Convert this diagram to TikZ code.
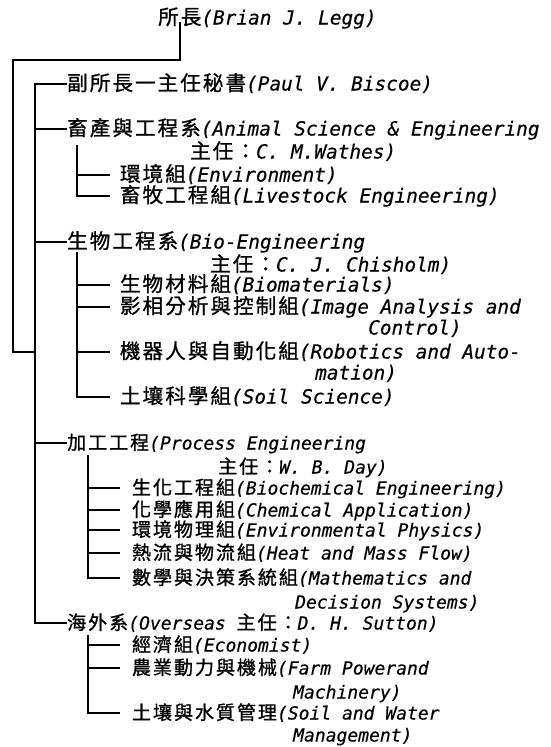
\documentclass[tikz,border=0pt]{standalone}
\usepackage{fontspec}
\newfontfamily\lat{DejaVu Sans Mono Oblique}[FakeBold=0.4]
\newfontfamily\cjk{Noto Sans CJK TC}[Scale=1.06, LetterSpace=10, FakeBold=1]
\begin{document}
\begin{tikzpicture}[x=1pt,y=-1pt,
  lbl/.style={anchor=west, inner sep=0pt, text height=13pt, text depth=0pt,
    font=\fontsize{18}{20}\selectfont\lat\frenchspacing},
  lblU/.style={lbl, font=\fontsize{19.4}{21}\selectfont\lat\frenchspacing},
  sub/.style={lblU, outer xsep=10pt},
  subb/.style={lbl, outer xsep=12pt},
  ln/.style={line width=1.9pt, line join=miter}]
\useasboundingbox[fill=white] (0,0) rectangle (550,747);
% nodes
\node[lblU] (title) at (158,18) {{\cjk 所長}(Brian J. Legg)};
\node[lblU] (vice) at (67,84) {{\cjk 副所長一主任秘書}(Paul V. Biscoe)};
\node[lblU] (anim) at (67,129) {{\cjk 畜產與工程系}(Animal Science \& Engineering};
\node[lblU] (animh) at (190,152) {{\cjk 主任：}C. M.Wathes)};
\node[sub] (a1) at (110,175) {{\cjk 環境組}(Environment)};
\node[sub] (a2) at (110,196) {{\cjk 畜牧工程組}(Livestock Engineering)};
\node[lblU] (bio) at (67,242) {{\cjk 生物工程系}(Bio-Engineering};
\node[lblU] (bioh) at (210,265) {{\cjk 主任：}C. J. Chisholm)};
\node[sub] (b1) at (110,285) {{\cjk 生物材料組}(Biomaterials)};
\node[sub] (b2) at (110,307) {{\cjk 影相分析與控制組}(Image Analysis and};
\node[lblU] (b2c) at (368,328) {Control)};
\node[sub] (b3) at (110,352) {{\cjk 機器人與自動化組}(Robotics and Auto-};
\node[lblU] (b3c) at (315,373) {mation)};
\node[sub] (b4) at (110,397) {{\cjk 土壤科學組}(Soil Science)};
\node[lbl] (proc) at (67,443) {{\cjk 加工工程}(Process Engineering};
\node[lbl] (proch) at (218,467) {{\cjk 主任：}W. B. Day)};
\node[subb] (p1) at (120,488) {{\cjk 生化工程組}(Biochemical Engineering)};
\node[subb] (p2) at (120,510) {{\cjk 化學應用組}(Chemical Application)};
\node[subb] (p3) at (120,530) {{\cjk 環境物理組}(Environmental Physics)};
\node[subb] (p4) at (120,553) {{\cjk 熱流與物流組}(Heat and Mass Flow)};
\node[subb] (p5) at (120,578) {{\cjk 數學與決策系統組}(Mathematics and};
\node[lbl] (p5c) at (295,602) {Decision Systems)};
\node[lbl] (over) at (67,623) {{\cjk 海外系}(Overseas {\cjk 主任：}D. H. Sutton)};
\node[subb] (d1) at (120,645) {{\cjk 經濟組}(Economist)};
\node[subb] (d2) at (120,668) {{\cjk 農業動力與機械}(Farm Powerand};
\node[lbl] (d2c) at (293,692) {Machinery)};
\node[subb] (d3) at (120,713) {{\cjk 土壤與水質管理}(Soil and Water};
\node[lbl] (d3c) at (293,735) {Management)};
% coordinates
\coordinate (tA) at (180,60);
\coordinate (tB) at (13,60);
\coordinate (tC) at (13,352);
\coordinate (bus) at (35,0);
\coordinate (gA) at (77,145);
\coordinate (gB) at (77,252);
\coordinate (gC) at (88,455);
\coordinate (gD) at (88,635);
% connectors
\draw[ln, shorten <=-3pt] (title.south -| tA) -- (tA) -- (tB) -- (tC) -- (tC -| bus);
\draw[ln] (vice.west) -- (vice.west -| bus) -- (over.west -| bus) -- (over.west);
\foreach \n in {anim,bio,proc} \draw[ln] (\n.west -| bus) -- (\n.west);
\draw[ln] (gA) -- (gA |- a2.west) -- (a2.west);
\draw[ln] (gA |- a1.west) -- (a1.west);
\draw[ln] (gB) -- (gB |- b4.west) -- (b4.west);
\foreach \n in {b1,b2,b3} \draw[ln] (gB |- \n.west) -- (\n.west);
\draw[ln] (gC) -- (gC |- p5.west) -- (p5.west);
\foreach \n in {p1,p2,p3,p4} \draw[ln] (gC |- \n.west) -- (\n.west);
\draw[ln] (gD) -- (gD |- d3.west) -- (d3.west);
\foreach \n in {d1,d2} \draw[ln] (gD |- \n.west) -- (\n.west);
\end{tikzpicture}
\end{document}
